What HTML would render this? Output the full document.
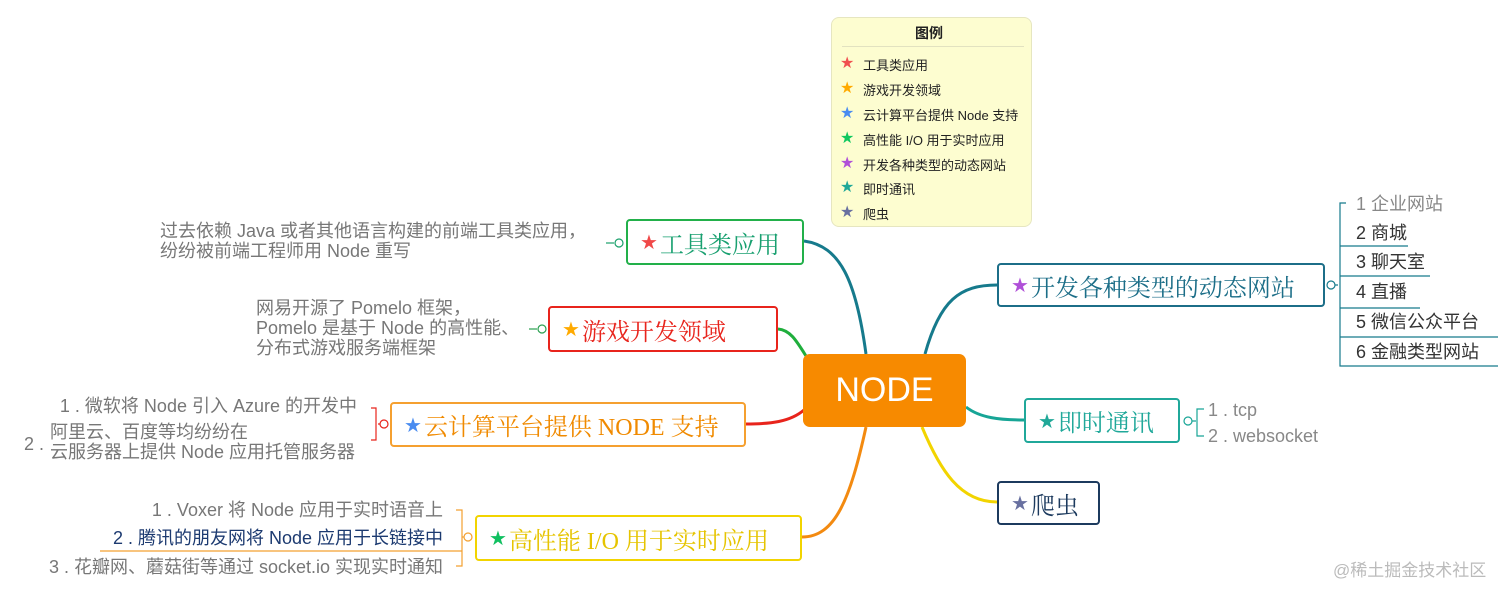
<!DOCTYPE html>
<html><head><meta charset="utf-8"><style>
body{margin:0;width:1512px;height:596px;background:#fff;position:relative;overflow:hidden;font-family:"Liberation Sans","Noto Sans CJK SC",sans-serif}
.a{position:absolute;white-space:nowrap}
.box{position:absolute;box-sizing:border-box;border:2px solid;border-radius:4px;background:#fff;font-family:"Liberation Serif","Noto Serif CJK SC",serif;font-size:24px;display:flex;align-items:center;padding-left:12px}
.box span.s{font-size:20px;margin-right:2px;font-family:"DejaVu Sans",sans-serif}
.g{color:#777;font-size:18px;line-height:20px}
.r{text-align:right}
.leg{position:absolute;left:863px;font-size:13px;color:#222}
.ls{position:absolute;left:840px;font-size:16px;font-family:"DejaVu Sans",sans-serif}
</style></head><body>
<svg class="a" style="left:0;top:0" width="1512" height="596">
<g fill="none" stroke-width="3">
<path d="M866 354 C856 280 840 246 804 241" stroke="#167a8c"/>
<path d="M806 356 C796 340 790 330 778 329" stroke="#1fae3c"/>
<path d="M804 410 C790 422 770 424 746 424" stroke="#e8241c"/>
<path d="M866 427 C850 500 835 537 802 537" stroke="#f38a10"/>
<path d="M925 354 C940 300 960 285 997 285" stroke="#167a8c"/>
<path d="M966 407 C980 418 1000 420 1024 420" stroke="#17a596"/>
<path d="M922 427 C940 470 960 502 997 502" stroke="#f2d400"/>
</g>
<g fill="none" stroke-width="1.2">
<path d="M606 243 H614" stroke="#1aa06b"/><circle cx="619" cy="243" r="4" stroke="#1aa06b" fill="#fff"/>
<path d="M529 329 H537" stroke="#2aa050"/><circle cx="542" cy="329" r="4" stroke="#2aa050" fill="#fff"/>
<circle cx="384" cy="424" r="4" stroke="#e8241c"/>
<path d="M380 424 H378 M371 408 H376 V440 H371" stroke="#e8241c"/>
<circle cx="468" cy="537" r="4" stroke="#f3a030"/>
<path d="M464 537 H462 M456 510 H462 V566 H456" stroke="#f3a030"/>
<path d="M100 551 H462" stroke="#f3a030"/>
<circle cx="1331" cy="285" r="4" stroke="#167a8c"/>
<path d="M1335 285 H1338 M1346 203 H1340 V366 H1498 M1340 276 H1430 M1340 308 H1420 M1340 337 H1498 M1340 246 H1408" stroke="#167a8c"/>
<circle cx="1188" cy="421" r="4" stroke="#17a596"/>
<path d="M1192 421 H1196 M1204 409 H1197 V436 H1204" stroke="#17a596"/>
</g>
</svg>
<div class="a" style="left:831px;top:17px;width:201px;height:210px;background:#fdfdd0;border:1px solid #e6e6c0;border-radius:8px;box-sizing:border-box"></div>
<div class="a" style="left:842px;top:46px;width:182px;height:1px;background:#e2e2c0"></div>
<div class="a" style="left:915px;top:23px;font-size:14px;font-weight:bold;color:#222">图例</div>
<div class="ls" style="top:53px;color:#f05050">★</div><div class="leg" style="top:55px">工具类应用</div>
<div class="ls" style="top:78px;color:#ffaa00">★</div><div class="leg" style="top:80px">游戏开发领域</div>
<div class="ls" style="top:103px;color:#4a8cf0">★</div><div class="leg" style="top:105px">云计算平台提供 Node 支持</div>
<div class="ls" style="top:128px;color:#10c860">★</div><div class="leg" style="top:130px">高性能 I/O 用于实时应用</div>
<div class="ls" style="top:153px;color:#b050d8">★</div><div class="leg" style="top:155px">开发各种类型的动态网站</div>
<div class="ls" style="top:177px;color:#20a898">★</div><div class="leg" style="top:179px">即时通讯</div>
<div class="ls" style="top:202px;color:#6870a0">★</div><div class="leg" style="top:204px">爬虫</div>

<div class="a" style="left:803px;top:354px;width:163px;height:73px;background:#f78a00;border-radius:7px;color:#fff;font-size:34px;display:flex;align-items:center;justify-content:center">NODE</div>

<div class="box" style="left:626px;top:219px;width:178px;height:46px;border-color:#22b04a;color:#19a070"><span class="s" style="color:#f04848">★</span>工具类应用</div>
<div class="box" style="left:548px;top:306px;width:230px;height:46px;border-color:#e8241c;color:#e8241c"><span class="s" style="color:#ffaa00">★</span>游戏开发领域</div>
<div class="box" style="left:390px;top:402px;width:356px;height:45px;border-color:#f5a030;color:#f08a00"><span class="s" style="color:#4a8cf0">★</span>云计算平台提供 NODE 支持</div>
<div class="box" style="left:475px;top:515px;width:327px;height:46px;border-color:#f2d400;color:#e6c400"><span class="s" style="color:#10c060">★</span>高性能 I/O 用于实时应用</div>
<div class="box" style="left:997px;top:263px;width:328px;height:44px;border-color:#1c6e88;color:#1c6e88"><span class="s" style="color:#b050d8">★</span>开发各种类型的动态网站</div>
<div class="box" style="left:1024px;top:398px;width:156px;height:45px;border-color:#20a89a;color:#20a89a"><span class="s" style="color:#20a898">★</span>即时通讯</div>
<div class="box" style="left:997px;top:481px;width:103px;height:44px;border-color:#1c3a5e;color:#1c3a5e"><span class="s" style="color:#6870a0">★</span>爬虫</div>

<div class="a g" style="left:160px;top:221px">过去依赖 Java 或者其他语言构建的前端工具类应用，<br>纷纷被前端工程师用 Node 重写</div>
<div class="a g" style="left:256px;top:298px">网易开源了 Pomelo 框架，<br>Pomelo 是基于 Node 的高性能、<br>分布式游戏服务端框架</div>
<div class="a g r" style="right:1155px;top:396px">1 . 微软将 Node 引入 Azure 的开发中</div>
<div class="a g" style="left:50px;top:422px">阿里云、百度等均纷纷在<br>云服务器上提供 Node 应用托管服务器</div>
<div class="a g" style="left:24px;top:434px">2 .</div>
<div class="a g r" style="right:1069px;top:500px">1 . Voxer 将 Node 应用于实时语音上</div>
<div class="a g r" style="right:1069px;top:528px;color:#1c3a70">2 . 腾讯的朋友网将 Node 应用于长链接中</div>
<div class="a g r" style="right:1069px;top:557px">3 . 花瓣网、蘑菇街等通过 socket.io 实现实时通知</div>

<div class="a g" style="left:1356px;top:194px;color:#888">1 企业网站</div>
<div class="a g" style="left:1356px;top:223px;color:#333">2 商城</div>
<div class="a g" style="left:1356px;top:252px;color:#333">3 聊天室</div>
<div class="a g" style="left:1356px;top:282px;color:#333">4 直播</div>
<div class="a g" style="left:1356px;top:312px;color:#333">5 微信公众平台</div>
<div class="a g" style="left:1356px;top:342px;color:#333">6 金融类型网站</div>
<div class="a g" style="left:1208px;top:400px;color:#888">1 . tcp</div>
<div class="a g" style="left:1208px;top:426px;color:#888">2 . websocket</div>
<div class="a" style="left:1333px;top:556px;font-size:17px;color:#bbb">@稀土掘金技术社区</div>
</body></html>
